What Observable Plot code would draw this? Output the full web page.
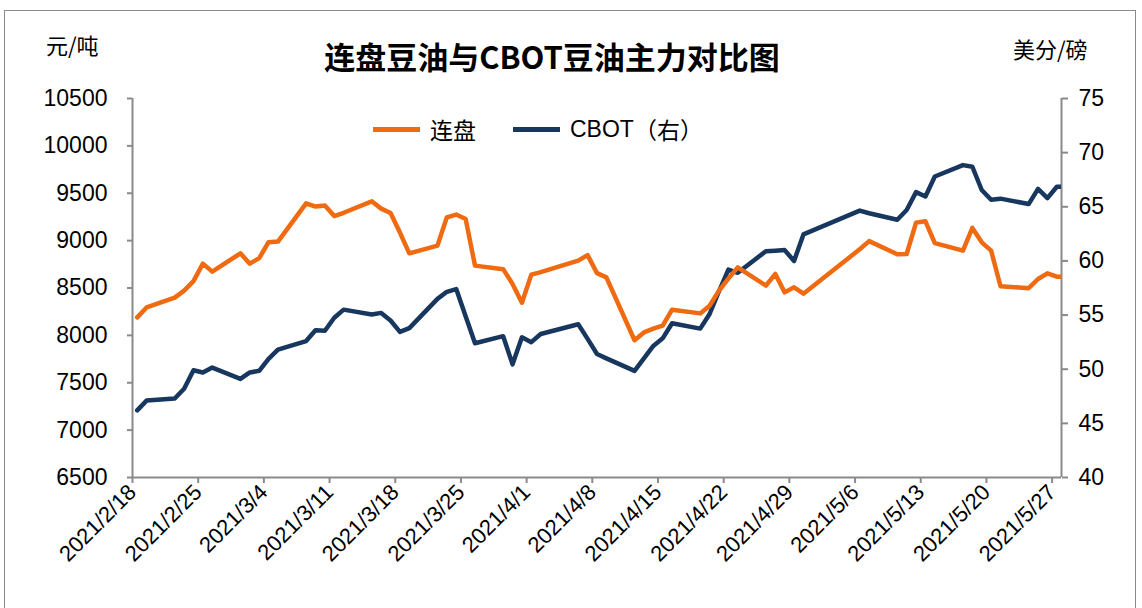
<!DOCTYPE html>
<html><head><meta charset="utf-8">
<script src="https://cdn.jsdelivr.net/npm/d3@7"></script>
<script src="https://cdn.jsdelivr.net/npm/@observablehq/plot@0.6"></script>
<style>
body{margin:0;background:#fff;}
#wrap{position:relative;width:1142px;height:608px;overflow:hidden;font-family:"Liberation Sans",Arial,sans-serif;color:#000;}
#frame{position:absolute;left:4px;top:10px;width:1132px;height:620px;border:1.5px solid #8a8a8a;box-sizing:border-box;}
#chart{position:absolute;left:0;top:0;}
.t{position:absolute;white-space:nowrap;line-height:1;}
#title{left:552px;top:40px;transform:translateX(-50%);font-family:"Noto Sans CJK SC",sans-serif;font-weight:bold;font-size:31px;}
#ul{left:46px;top:33px;font-family:"Noto Sans CJK SC",sans-serif;font-size:22px;}
#ur{left:1013px;top:37px;font-family:"Noto Sans CJK SC",sans-serif;font-size:22px;}
.lg{position:absolute;top:116px;font-size:23px;display:flex;align-items:center;height:26px;}
.sw{display:inline-block;width:47px;height:5px;margin-right:10px;}
.cjk{font-family:"Noto Sans CJK SC",sans-serif;}
</style></head><body>
<div id="wrap">
  <div id="frame"></div>
  <div id="chart"></div>
  <div id="title" class="t">连盘豆油与CBOT豆油主力对比图</div>
  <div id="ul" class="t">元/吨</div>
  <div id="ur" class="t">美分/磅</div>
  <div class="lg" style="left:373px"><span class="sw" style="background:#EF6A10"></span><span class="cjk">连盘</span></div>
  <div class="lg" style="left:513px"><span class="sw" style="background:#17375E"></span><span>CBOT</span><span class="cjk">（右）</span></div>
</div>
<script>
const dates = ["2021-02-18","2021-02-19","2021-02-22","2021-02-23","2021-02-24","2021-02-25","2021-02-26",
"2021-03-01","2021-03-02","2021-03-03","2021-03-04","2021-03-05","2021-03-08","2021-03-09","2021-03-10","2021-03-11","2021-03-12",
"2021-03-15","2021-03-16","2021-03-17","2021-03-18","2021-03-19","2021-03-22","2021-03-23","2021-03-24","2021-03-25","2021-03-26",
"2021-03-29","2021-03-30","2021-03-31","2021-04-01","2021-04-02","2021-04-06","2021-04-07","2021-04-08","2021-04-09",
"2021-04-12","2021-04-13","2021-04-14","2021-04-15","2021-04-16","2021-04-19","2021-04-20","2021-04-21","2021-04-22","2021-04-23",
"2021-04-26","2021-04-27","2021-04-28","2021-04-29","2021-04-30","2021-05-06","2021-05-07",
"2021-05-10","2021-05-11","2021-05-12","2021-05-13","2021-05-14","2021-05-17","2021-05-18","2021-05-19","2021-05-20","2021-05-21",
"2021-05-24","2021-05-25","2021-05-26","2021-05-27","2021-05-28"];
const dalian = [8190,8295,8398,8472,8572,8757,8673,
8866,8757,8815,8984,8990,9394,9359,9370,9259,9294,
9415,9338,9291,9085,8866,8947,9246,9275,9229,8736,
8699,8543,8345,8641,8667,8789,8847,8657,8612,
7949,8031,8071,8102,8271,8232,8313,8472,8599,8718,
8525,8648,8454,8507,8440,8909,8995,
8857,8859,9190,9204,8974,8894,9134,8982,8894,8519,
8498,8595,8655,8620,8620];
const cbot = [46.2,47.1,47.3,48.2,49.9,49.7,50.15,
49.1,49.7,49.85,50.95,51.8,52.6,53.6,53.55,54.75,55.5,
55.05,55.2,54.5,53.45,53.8,56.5,57.15,57.4,54.9,52.4,
53.05,50.45,52.95,52.5,53.25,54.15,52.8,51.4,51.0,
49.85,51.0,52.15,52.85,54.25,53.75,55.1,57.2,59.2,58.9,
60.9,60.95,61.0,60.0,62.45,64.65,64.4,
63.8,64.7,66.35,65.95,67.8,68.85,68.7,66.55,65.65,65.75,
65.25,66.65,65.8,66.85,66.85];
const leftTicks = [6500,7000,7500,8000,8500,9000,9500,10000,10500];
const rightTicks = [40,45,50,55,60,65,70,75];
const xTickLabels = ["2021/2/18","2021/2/25","2021/3/4","2021/3/11","2021/3/18","2021/3/25","2021/4/1","2021/4/8","2021/4/15","2021/4/22","2021/4/29","2021/5/6","2021/5/13","2021/5/20","2021/5/27"];
const seriesNames = ["连盘","CBOT（右）"];

const ORANGE = "#EF6A10", NAVY = "#17375E", GRAY = "#8a8a8a";
const parseLabel = s => { const [y,m,d] = s.split("/").map(Number); return new Date(Date.UTC(y, m-1, d)); };
const xTicks = xTickLabels.map(parseLabel);
const x0 = new Date(Date.UTC(2021,1,18)), x1 = new Date(Date.UTC(2021,4,28));
// right axis (美分/磅) mapped onto the left scale
const L0 = 6500, L1 = 10500, R0 = 40, R1 = 75;
const toLeft = v => L0 + (v - R0) * (L1 - L0) / (R1 - R0);
const fromLeft = v => R0 + (v - L0) * (R1 - R0) / (L1 - L0);

const rows = dates.map((d, i) => ({date: new Date(d + "T12:00:00Z"), dalian: dalian[i], cbot: toLeft(cbot[i])}));
const font = "Liberation Sans, Arial, sans-serif";

const chart = Plot.plot({
  width: 1142, height: 608,
  marginLeft: 132, marginRight: 81, marginTop: 98, marginBottom: 131,
  style: {fontFamily: font, fontSize: "23px", background: "transparent", overflow: "visible"},
  x: {type: "utc", domain: [x0, x1], axis: null},
  y: {domain: [L0, L1], axis: null},
  marks: [
    Plot.ruleX([x0], {stroke: GRAY, strokeWidth: 2}),
    Plot.ruleX([x1], {stroke: GRAY, strokeWidth: 2}),
    Plot.ruleY([L0], {stroke: GRAY, strokeWidth: 2}),
    Plot.axisY({anchor: "left", ticks: leftTicks, tickFormat: d => String(d), tickSize: 5, tickPadding: 20, stroke: GRAY, fill: "#000", strokeWidth: 2, label: null, fontSize: 23}),
    Plot.axisY({anchor: "right", ticks: rightTicks.map(toLeft), tickFormat: v => String(Math.round(fromLeft(v))), tickSize: 6, tickPadding: 11, stroke: GRAY, fill: "#000", strokeWidth: 2, label: null, fontSize: 23}),
    Plot.axisX({ticks: xTicks, tickFormat: d => xTickLabels[xTicks.findIndex(t => +t === +d)], tickRotate: -45, tickSize: 6, tickPadding: 5, stroke: GRAY, fill: "#000", strokeWidth: 2, label: null, fontSize: 22}),
    Plot.line(rows, {x: "date", y: "cbot", stroke: NAVY, strokeWidth: 4.5, strokeLinejoin: "round", strokeLinecap: "round", clip: true}),
    Plot.line(rows, {x: "date", y: "dalian", stroke: ORANGE, strokeWidth: 4.5, strokeLinejoin: "round", strokeLinecap: "round", clip: true})
  ]
});
document.getElementById("chart").appendChild(chart);
</script>
</body></html>
